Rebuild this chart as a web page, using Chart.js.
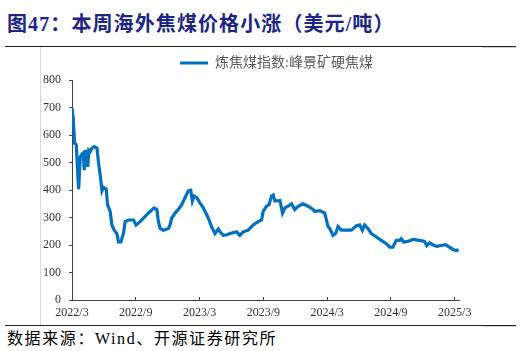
<!DOCTYPE html>
<html>
<head>
<meta charset="utf-8">
<script src="https://cdn.jsdelivr.net/npm/chart.js@4.4.1/dist/chart.umd.min.js"></script>
<style>
    html, body { margin: 0; padding: 0; background: #fff; width: 523px; height: 351px; overflow: hidden; }
    .txt { position: absolute; white-space: nowrap; }
    #title { left: 7px; top: 12px; font: bold 20px "Liberation Serif", "Noto Sans CJK SC"; line-height: 24px; color: #1b2585; letter-spacing: 1.1px; }
    #source { left: 7px; top: 329px; font: 16px "Liberation Serif", "Noto Sans CJK SC"; line-height: 20px; color: #000; letter-spacing: 1.6px; }
    .rule { position: absolute; }
    #chart { position: absolute; left: 0; top: 41px; }
</style>
</head>
<body>
<div id="title" class="txt">图47：本周海外焦煤价格小涨（美元/吨）</div>
<div class="rule" style="left:5px;top:46px;width:511px;height:1px;background:#222;"></div>
<div class="rule" style="left:482px;top:47px;width:34px;height:1px;background:#d4d4d4;"></div>
<div class="rule" style="left:40px;top:47px;width:1px;height:278px;background:#d9d9d9;"></div>
<div class="rule" style="left:5px;top:325px;width:511px;height:1px;background:#222;"></div>
<div class="rule" style="left:482px;top:326px;width:34px;height:1px;background:#d4d4d4;"></div>
<canvas id="chart" width="523" height="284"></canvas>
<div id="source" class="txt">数据来源：Wind、开源证券研究所</div>
<script>
    // months elapsed since 2022/3 (x) and price in USD/t (y)
    var monthOffsets = [0.00, 0.12, 0.24, 0.40, 0.62, 0.78, 0.92, 1.06, 1.15, 1.25, 1.39, 1.48, 1.58, 1.72, 1.81, 1.95,
        2.09, 2.35, 2.50, 2.66, 2.82, 2.97, 3.22, 3.34, 3.59, 3.75, 3.97, 4.22, 4.37, 4.60, 4.84, 5.00,
        5.31, 5.78, 6.03, 6.41, 6.88, 7.35, 7.72, 7.98, 8.13, 8.29, 8.60, 9.07, 9.22, 9.38, 9.69, 10.00,
        10.32, 10.63, 10.94, 11.17, 11.32, 11.48, 11.73, 12.04, 12.35, 12.67, 12.82, 13.14, 13.45, 13.76,
        13.92, 14.23, 14.55, 14.86, 15.17, 15.48, 15.79, 16.10, 16.57, 17.04, 17.51, 17.83, 17.98, 18.30,
        18.54, 18.77, 18.93, 19.09, 19.56, 19.80, 20.02, 20.33, 20.65, 20.96, 21.27, 21.73, 22.20, 22.67,
        22.83, 23.30, 23.77, 24.08, 24.24, 24.55, 24.80, 25.02, 25.34, 25.81, 26.28, 26.75, 27.06, 27.31,
        27.52, 27.83, 28.15, 28.62, 29.09, 29.56, 29.87, 30.18, 30.50, 30.81, 30.97, 31.18, 31.59, 32.06,
        32.69, 33.16, 33.37, 33.62, 33.93, 34.31, 34.72, 35.13, 35.50, 35.88, 36.13, 36.37];
    var prices = [698, 660, 570, 565, 403, 521, 530, 535, 472, 540, 540, 484, 545, 540, 548, 555,
        558, 552, 496, 453, 397, 409, 403, 347, 322, 273, 254, 242, 211, 211, 242, 285,
        291, 291, 273, 285, 304, 322, 335, 329, 285, 260, 254, 260, 273, 298, 316, 329,
        347, 372, 397, 399, 360, 378, 372, 353, 335, 310, 298, 265, 242, 258,
        248, 235, 237, 242, 245, 248, 235, 248, 254, 273, 285, 291, 322, 341,
        347, 378, 382, 360, 362, 316, 335, 341, 350, 329, 341, 350, 341, 329,
        322, 325, 316, 267, 260, 235, 242, 267, 254, 254, 254, 270, 273, 254,
        273, 260, 242, 229, 217, 205, 192, 192, 217, 217, 223, 211, 213, 220,
        217, 213, 198, 208, 201, 195, 198, 201, 192, 183, 180, 183];
    var tickMonths = [0, 6, 12, 18, 24, 30, 36];
    var tickLabels = ['2022/3', '2022/9', '2023/3', '2023/9', '2024/3', '2024/9', '2025/3'];
    var seriesName = '炼焦煤指数:峰景矿硬焦煤';

    var points = monthOffsets.map(function (m, i) { return { x: m, y: prices[i] }; });
    var axisColor = '#404040';
    var tickFont = { family: 'Liberation Serif', size: 12 };

    // the legend in the original sits right of the plot centre
    var legendShift = {
        id: 'legendShift',
        afterLayout: function (chart) {
            chart.legend.left += 47;
            chart.legend.right += 47;
        }
    };

    new Chart(document.getElementById('chart'), {
        type: 'line',
        data: {
            datasets: [{
                label: seriesName,
                data: points,
                borderColor: '#0070C0',
                backgroundColor: '#0070C0',
                borderWidth: 3.2,
                pointRadius: 0,
                tension: 0
            }]
        },
        options: {
            responsive: false,
            devicePixelRatio: 1,
            animation: false,
            layout: { padding: { left: 0, right: 64, top: 0, bottom: 0 } },
            plugins: {
                tooltip: { enabled: false },
                legend: {
                    position: 'top',
                    labels: {
                        boxWidth: 28,
                        boxHeight: 3,
                        padding: 15,
                        color: '#595959',
                        font: { family: '"Liberation Serif", "Noto Sans CJK SC"', size: 14 },
                        generateLabels: function (chart) {
                            var items = Chart.defaults.plugins.legend.labels.generateLabels(chart);
                            items.forEach(function (it) { it.lineWidth = 0; });
                            return items;
                        }
                    }
                }
            },
            scales: {
                x: {
                    type: 'linear',
                    min: 0,
                    max: 36.4,
                    afterBuildTicks: function (scale) {
                        scale.ticks = tickMonths.map(function (v) { return { value: v }; });
                    },
                    afterFit: function (scale) { scale.height = 25; },
                    ticks: {
                        color: '#333',
                        font: tickFont,
                        padding: 9,
                        maxRotation: 0,
                        autoSkip: false,
                        callback: function (value) { return tickLabels[tickMonths.indexOf(value)]; }
                    },
                    grid: { drawOnChartArea: false, color: axisColor, tickLength: -3 },
                    border: { color: axisColor, width: 1 }
                },
                y: {
                    min: 0,
                    max: 800,
                    afterFit: function (scale) { scale.width = 72; },
                    ticks: { stepSize: 100, color: '#333', font: tickFont, padding: 8 },
                    grid: { drawOnChartArea: false, color: axisColor, tickLength: 3 },
                    border: { color: axisColor, width: 1 }
                }
            }
        },
        plugins: [legendShift]
    });
</script>
</body>
</html>
